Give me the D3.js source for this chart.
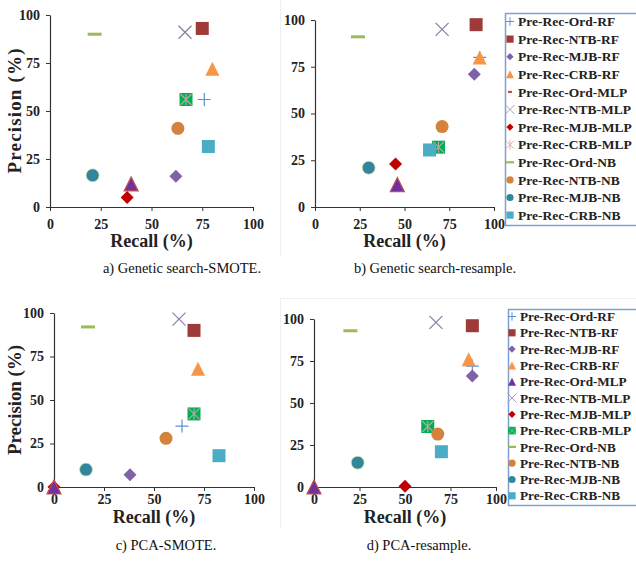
<!DOCTYPE html>
<html><head><meta charset="utf-8">
<script src="https://cdn.jsdelivr.net/npm/d3@7"></script>
<style>body{margin:0;background:#fff}svg{display:block}</style>
</head><body><svg id="chart" width="636" height="561"></svg>
<script>
// ---------- DATA ----------
const seriesNames = ["Pre-Rec-Ord-RF","Pre-Rec-NTB-RF","Pre-Rec-MJB-RF","Pre-Rec-CRB-RF",
  "Pre-Rec-Ord-MLP","Pre-Rec-NTB-MLP","Pre-Rec-MJB-MLP","Pre-Rec-CRB-MLP",
  "Pre-Rec-Ord-NB","Pre-Rec-NTB-NB","Pre-Rec-MJB-NB","Pre-Rec-CRB-NB"];
const tickValues = [0, 25, 50, 75, 100];
// a) Genetic search-SMOTE
const recallA    = [76, 75, 62, 80, 40, 66.5, 38, 67, 22, 63, 21, 78];
const precisionA = [56, 93, 16, 72, 12, 91, 5, 56, 90, 41, 16.5, 31.5];
// b) Genetic search-resample
const recallB    = [92, 90, 89, 92, 46, 71, 45, 69, 24, 71, 30, 64];
const precisionB = [80, 97.5, 71, 80, 12, 95, 23, 32, 91, 43, 21, 30.5];
// c) PCA-SMOTE
const recallC    = [64, 70, 38, 72, 0, 62.5, 0, 70, 17, 56, 16, 82.5];
const precisionC = [35, 90, 7, 68, 0, 96.5, 0, 42, 92, 28, 10, 18];
// d) PCA-resample
const recallD    = [87, 87, 87, 85, 0, 67, 50, 62.5, 20, 68, 24, 70];
const precisionD = [72, 96, 66, 76, 0, 98, 0.5, 36, 93, 31.5, 14.5, 21];
const captions = ["a) Genetic search-SMOTE.", "b) Genetic search-resample.", "c) PCA-SMOTE.", "d) PCA-resample."];
const xTitle = "Recall (%)", yTitle = "Precision (%)";

// ---------- STYLES ----------
const plotShapes = ["plus","square","diamond","triangle","triangle","x","diamond","greenx","dash","circle","circle","square"];
const plotColors = ["#5b8fd6","#9e3b38","#7f62a8","#f79646","#7030a0","#8a7aa8","#c00000","#00b050","#9bbb59","#d4823c","#31859c","#4bacc6"];
const legShapesAB = ["plus","square","diamond","triangle","dash","x","diamond","asterisk","dash","circle","circle","square"];
const legColorsAB = ["#5b8fd6","#9e3b38","#7f62a8","#f79646","#c0504d","#a89cc0","#c00000","#e8a8a8","#9bbb59","#d4823c","#31859c","#4bacc6"];
const legShapesCD = ["plus","square","diamond","triangle","triangle","x","diamond","greenx","dash","circle","circle","square"];
const legColorsCD = ["#5b8fd6","#9e3b38","#7f62a8","#f79646","#7030a0","#a89cc0","#c00000","#00b050","#9bbb59","#d4823c","#31859c","#4bacc6"];

const FONT = "'Liberation Serif','Times New Roman',serif";
const svg = d3.select("#chart");

// faint chart-area borders
svg.append("line").attr("x1",280.5).attr("x2",280.5).attr("y1",0).attr("y2",256).attr("stroke","#efefef");
svg.append("line").attr("x1",280).attr("x2",636).attr("y1",298.5).attr("y2",298.5).attr("stroke","#efefef");
svg.append("line").attr("x1",280.5).attr("x2",280.5).attr("y1",298).attr("y2",528).attr("stroke","#efefef");

const panels = [
  {rx: recallA, py: precisionA, x0: 50, x1: 253, y0: 207, y1: 15, pad: 8, yT: true, yTLen: 125, titleY: 247, cap: captions[0], capX: 182, capY: 273},
  {rx: recallB, py: precisionB, x0: 315, x1: 494, y0: 207, y1: 20, pad: 8, yT: false, titleY: 247, cap: captions[1], capX: 435, capY: 273},
  {rx: recallC, py: precisionC, x0: 54, x1: 254, y0: 487, y1: 313, pad: 3, yT: true, yTLen: 110, titleY: 523, cap: captions[2], capX: 166, capY: 550},
  {rx: recallD, py: precisionD, x0: 314, x1: 496, y0: 487, y1: 319, pad: 3, yT: false, titleY: 523, cap: captions[3], capX: 419, capY: 550}
];

function drawMarker(g, shape, color, s, opts) {
  opts = opts || {};
  if (shape === "square") {
    g.append("rect").attr("x",-s).attr("y",-s).attr("width",2*s).attr("height",2*s).attr("fill",color)
      .attr("stroke", opts.edge || "none").attr("stroke-width",0.8);
  } else if (shape === "circle") {
    g.append("circle").attr("r",s).attr("fill",color).attr("stroke",opts.edge || "none").attr("stroke-width",0.8);
  } else if (shape === "diamond") {
    g.append("path").attr("d",`M0,${-s}L${s},0L0,${s}L${-s},0Z`).attr("fill",color).attr("stroke",opts.edge||"none").attr("stroke-width",0.8);
  } else if (shape === "triangle") {
    g.append("path").attr("d",`M0,${-s}L${s},${s}L${-s},${s}Z`).attr("fill",color)
      .attr("stroke",opts.edge || "none").attr("stroke-width",opts.edgeW || 0.8);
  } else if (shape === "plus") {
    g.append("path").attr("d",`M${-s},0H${s}M0,${-s}V${s}`).attr("stroke",color).attr("stroke-width",opts.w||1.2).attr("fill","none");
  } else if (shape === "x") {
    g.append("path").attr("d",`M${-s},${-s}L${s},${s}M${-s},${s}L${s},${-s}`).attr("stroke",color).attr("stroke-width",opts.w||1.2).attr("fill","none");
  } else if (shape === "asterisk") {
    g.append("path").attr("d",`M${-s},${-s}L${s},${s}M${-s},${s}L${s},${-s}M0,${-s*1.2}V${s*1.2}`).attr("stroke",color).attr("stroke-width",opts.w||1).attr("fill","none");
  } else if (shape === "dash") {
    const h = opts.h || 3;
    g.append("rect").attr("x",-s).attr("y",-h/2).attr("width",2*s).attr("height",h).attr("fill",color);
  } else if (shape === "greenx") {
    g.append("rect").attr("x",-s).attr("y",-s).attr("width",2*s).attr("height",2*s).attr("fill",color);
    const t = s*0.85;
    g.append("path").attr("d",`M${-t},${-t}L${t},${t}M${-t},${t}L${t},${-t}` + (opts.star ? `M0,${-t}V${t}` : ""))
      .attr("stroke",opts.starColor || "#1f7a3f").attr("stroke-width",opts.w||1).attr("fill","none");
  }
}

const plotSizes = {square:6.5, circle:6.5, diamond:6.5, triangle:7, plus:6.5, x:6.5, dash:7, greenx:6.5};
// draw order: Ord-MLP triangle last so it stays on top, as in the reference
const drawOrder = [0,1,2,3,5,6,7,8,9,10,11,4];

panels.forEach(p => {
  const x = d3.scaleLinear().domain([0,100]).range([p.x0, p.x1]);
  const y = d3.scaleLinear().domain([0,100]).range([p.y0, p.y1]);
  const gx = svg.append("g").attr("transform",`translate(0,${p.y0})`)
    .call(d3.axisBottom(x).tickValues(tickValues).tickSize(4).tickPadding(p.pad).tickSizeOuter(0));
  const gy = svg.append("g").attr("transform",`translate(${p.x0},0)`)
    .call(d3.axisLeft(y).tickValues(tickValues).tickSize(4).tickPadding(6).tickSizeOuter(0));
  [gx, gy].forEach(g => {
    g.selectAll("path.domain").attr("stroke","#333").attr("stroke-width",1.2);
    g.selectAll("line").attr("stroke","#333");
    g.selectAll("text").attr("font-family",FONT).attr("font-weight","bold").attr("font-size",14).attr("fill","#222");
  });

  drawOrder.forEach(i => {
    const g = svg.append("g").attr("transform",`translate(${x(p.rx[i])},${y(p.py[i])})`);
    const shape = plotShapes[i];
    const opts = {};
    if (shape === "greenx") { opts.star = true; opts.starColor = "#b0a8a8"; opts.w = 1.2; }
    if (i === 4) { opts.edge = "#c0504d"; opts.edgeW = 1.2; }
    if (i === 10) { opts.edge = "#d6e6b0"; }
    drawMarker(g, shape, plotColors[i], plotSizes[shape], opts);
  });

  svg.append("text").attr("x",(p.x0+p.x1)/2).attr("y",p.titleY).attr("text-anchor","middle")
    .attr("font-family",FONT).attr("font-weight","bold").attr("font-size",18).attr("fill","#222").text(xTitle);
  if (p.yT) {
    svg.append("text").attr("transform",`translate(21,${(p.y0+p.y1)/2}) rotate(-90)`).attr("text-anchor","middle")
      .attr("font-family",FONT).attr("font-weight","bold").attr("font-size",19).attr("fill","#222")
      .attr("textLength",p.yTLen).attr("lengthAdjust","spacing").text(yTitle);
  }
  svg.append("text").attr("x",p.capX).attr("y",p.capY).attr("text-anchor","middle")
    .attr("font-family",FONT).attr("font-size",14.5).attr("fill","#111").text(p.cap);
});

// ---------- LEGENDS ----------
const legends = [
  {bx: 505, by: 13, bh: 212, row0: 21.5, step: 17.6, mx: 510, tx: 518, fs: 13.5, shapes: legShapesAB, colors: legColorsAB},
  {bx: 508, by: 309, bh: 196, row0: 316.5, step: 16.3, mx: 512, tx: 520, fs: 13.2, shapes: legShapesCD, colors: legColorsCD}
];
const legSizes = {square:3.6, circle:3.6, diamond:3.6, triangle:4, plus:4.2, x:4.5, asterisk:4, greenx:3.8};
legends.forEach(L => {
  svg.append("rect").attr("x",L.bx+0.5).attr("y",L.by+0.5).attr("width",200).attr("height",L.bh)
    .attr("fill","#fff").attr("stroke","#7f9fcf").attr("stroke-width",1.5);
  seriesNames.forEach((name, i) => {
    const cy = L.row0 + i*L.step;
    const g = svg.append("g").attr("transform",`translate(${L.mx},${cy})`);
    const shape = L.shapes[i];
    let s = legSizes[shape], opts = {w: 1};
    if (shape === "dash") { s = (L.colors[i] === "#c0504d") ? 2 : 4; opts.h = 2.2; }
    if (shape === "greenx") { opts.starColor = "#7fd0a0"; opts.w = 0.8; }
    drawMarker(g, shape, L.colors[i], s, opts);
    svg.append("text").attr("x",L.tx).attr("y",cy+4.6).attr("font-family",FONT).attr("font-weight","bold")
      .attr("font-size",L.fs).attr("fill","#222").text(name);
  });
});
</script></body></html>
